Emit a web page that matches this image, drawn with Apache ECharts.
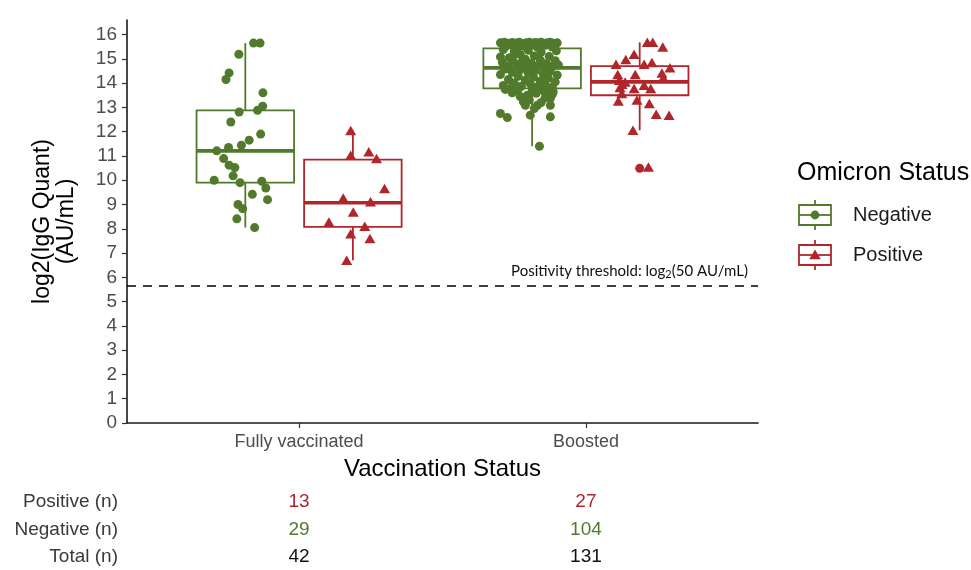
<!DOCTYPE html>
<html>
<head>
<meta charset="utf-8">
<title>IgG by vaccination and Omicron status</title>
<script src="https://cdn.jsdelivr.net/npm/echarts@6/dist/echarts.min.js"></script>
<style>
  html, body { margin: 0; padding: 0; background: #fff; }
  #chart { width: 971px; height: 570px; }
</style>
</head>
<body>
<div id="chart"></div>
<script>
// ---- data ----
const categories = ['Fully vaccinated', 'Boosted'];
const yTicks = [0, 1, 2, 3, 4, 5, 6, 7, 8, 9, 10, 11, 12, 13, 14, 15, 16];
const groupNames = ['Negative', 'Positive'];
const thresholdAU = 50;

// box statistics per category: [lower whisker, Q1, median, Q3, upper whisker]
const negativeBoxes = [
  [8.05, 9.90, 11.21, 12.88, 15.65],
  [11.40, 13.78, 14.63, 15.43, 15.67]
];
const positiveBoxes = [
  [6.70, 8.08, 9.07, 10.85, 12.05],
  [12.06, 13.50, 14.05, 14.70, 15.68]
];
// outliers: [category number, value]
const positiveOutliers = [[2, 10.49]];

// jittered observations: [x on category scale, log2 IgG]
const negativeFully = [
  [0.841,15.65],[0.864,15.65],[0.790,15.19],[0.756,14.42],[0.745,14.15],[0.874,13.60],
  [0.873,13.05],[0.855,12.88],[0.791,12.81],[0.762,12.40],[0.866,11.90],[0.826,11.65],
  [0.799,11.44],[0.754,11.35],[0.713,11.21],[0.737,10.89],[0.756,10.62],[0.776,10.52],
  [0.770,10.18],[0.704,10.00],[0.794,9.90],[0.870,9.96],[0.884,9.68],[0.837,9.42],
  [0.890,9.20],[0.787,9.00],[0.803,8.83],[0.783,8.41],[0.845,8.05]
];
const positiveFully = [
  [1.180,12.05],[1.180,11.03],[1.243,11.17],[1.270,10.89],[1.298,9.66],[1.154,9.27],
  [1.249,9.11],[1.189,8.69],[1.104,8.28],[1.229,8.10],[1.180,7.80],[1.247,7.60],[1.166,6.70]
];
const negativeBoosted = [
  [1.702,15.66],[1.716,15.68],[1.730,15.64],[1.743,15.67],[1.757,15.65],[1.768,15.68],
  [1.778,15.63],[1.792,15.66],[1.803,15.68],[1.813,15.64],[1.824,15.67],[1.834,15.65],
  [1.844,15.68],[1.855,15.63],[1.865,15.66],[1.876,15.68],[1.886,15.64],[1.900,15.66],
  [1.740,15.60],[1.810,15.58],[1.858,15.57],[1.719,15.50],[1.785,15.52],[1.831,15.47],
  [1.883,15.49],[1.761,15.45],
  [1.712,15.38],[1.750,15.30],[1.799,15.35],[1.844,15.28],[1.897,15.33],[1.771,15.18],
  [1.820,15.12],[1.733,15.05],[1.872,15.10],[1.789,14.98],[1.841,14.95],[1.747,14.90],
  [1.893,14.92],[1.709,14.85],[1.810,14.82],[1.862,14.80],[1.764,14.76],[1.831,14.72],
  [1.730,14.70],[1.883,14.68],[1.796,14.66],[1.851,14.64],[1.754,15.22],[1.702,15.08],
  [1.904,14.75],[1.778,14.88],
  [1.719,14.58],[1.771,14.55],[1.824,14.52],[1.876,14.50],[1.743,14.45],[1.799,14.42],
  [1.851,14.38],[1.702,14.35],[1.900,14.33],[1.764,14.28],[1.817,14.25],[1.869,14.20],
  [1.730,14.15],[1.789,14.12],[1.841,14.08],[1.893,14.05],[1.750,14.00],[1.806,13.97],
  [1.858,13.93],[1.712,13.90],[1.775,13.87],[1.831,13.85],[1.883,13.83],[1.740,13.81],
  [1.796,14.60],[1.858,14.62],
  [1.702,12.75],[1.726,12.58],[1.806,12.68],[1.876,12.61],[1.831,13.09],[1.876,13.37],
  [1.782,13.23],[1.886,13.64],[1.838,11.40],[1.796,13.50],[1.883,13.54],[1.789,13.09],
  [1.876,13.09],[1.719,13.74],[1.757,13.70],[1.813,13.72],[1.855,13.66],[1.743,13.60],
  [1.827,13.58],[1.771,13.45],[1.858,13.40],[1.803,13.30],[1.844,13.20],[1.764,13.75],
  [1.869,13.76],[1.820,12.95]
];
const positiveBoosted = [
  [2.214,15.68],[2.233,15.68],[2.268,15.49],[2.168,15.19],[2.139,14.97],[2.203,14.78],
  [2.230,14.85],[2.105,14.78],[2.293,14.63],[2.265,14.42],[2.111,14.35],[2.172,14.35],
  [2.117,14.12],[2.270,14.22],[2.137,14.05],[2.168,13.78],[2.119,13.82],[2.203,13.91],
  [2.226,13.78],[2.125,13.57],[2.113,13.26],[2.178,13.30],[2.221,13.16],[2.245,12.72],
  [2.290,12.68],[2.164,12.06],[2.218,10.55],[2.126,13.95]
];

// counts table
const countRows = ['Positive (n)', 'Negative (n)', 'Total (n)'];
const positiveCounts = [13, 27];
const negativeCounts = [29, 104];
const totalCounts = [42, 131];

// ---- styling ----
const GREEN = '#517A2C';
const RED = '#B0262B';
const FONT = '"Liberation Sans", Arial, sans-serif';
const DODGE = 0.1875;
const BOX_HALF = 0.17;

const chart = echarts.init(document.getElementById('chart'), null, { renderer: 'canvas' });

function boxData(stats, side) {
  return stats.map((s, i) => [i + 1 + side * DODGE].concat(s));
}

function renderBox(params, api) {
  const x = api.value(0);
  const lo = api.coord([x, api.value(1)]);
  const q1 = api.coord([x, api.value(2)]);
  const med = api.coord([x, api.value(3)]);
  const q3 = api.coord([x, api.value(4)]);
  const hi = api.coord([x, api.value(5)]);
  const half = api.coord([x + BOX_HALF, api.value(3)])[0] - med[0];
  const color = api.visual('color');
  const cx = med[0];
  const thin = { stroke: color, lineWidth: 1.8, fill: null };
  return {
    type: 'group',
    children: [
      { type: 'line', shape: { x1: cx, y1: hi[1], x2: cx, y2: q3[1] }, style: thin },
      { type: 'line', shape: { x1: cx, y1: q1[1], x2: cx, y2: lo[1] }, style: thin },
      { type: 'rect', shape: { x: cx - half, y: q3[1], width: 2 * half, height: q1[1] - q3[1] },
        style: { stroke: color, lineWidth: 1.8, fill: 'rgba(255,255,255,0)' } },
      { type: 'line', shape: { x1: cx - half, y1: med[1], x2: cx + half, y2: med[1] },
        style: { stroke: color, lineWidth: 3.6 } }
    ]
  };
}

const option = {
  animation: false,
  backgroundColor: '#ffffff',
  textStyle: { fontFamily: FONT },
  grid: { left: 127, right: 213, top: 20, bottom: 147, containLabel: false },
  xAxis: {
    type: 'value',
    min: 0.4,
    max: 2.6,
    name: 'Vaccination Status',
    nameLocation: 'middle',
    nameGap: 34,
    nameTextStyle: { fontSize: 24, color: '#000', fontFamily: FONT },
    axisLine: { show: true, onZero: false, lineStyle: { color: '#1a1a1a', width: 1.6 } },
    axisTick: { show: true, length: 5, customValues: [1, 2], lineStyle: { color: '#333', width: 1.2 } },
    axisLabel: {
      customValues: [1, 2],
      formatter: v => categories[Math.round(v) - 1] || '',
      fontSize: 18, color: '#4D4D4D', margin: 10, fontFamily: FONT
    },
    splitLine: { show: false }
  },
  yAxis: {
    type: 'value',
    min: 0,
    max: 16.6,
    name: 'log2(IgG Quant)\n(AU/mL)',
    nameLocation: 'middle',
    nameRotate: 90,
    nameGap: 48,
    nameTextStyle: { fontSize: 23, color: '#000', lineHeight: 24, fontFamily: FONT },
    axisLine: { show: true, lineStyle: { color: '#1a1a1a', width: 1.6 } },
    axisTick: { show: true, length: 5, customValues: yTicks, lineStyle: { color: '#333', width: 1.2 } },
    axisLabel: { customValues: yTicks, fontSize: 19, color: '#4D4D4D', margin: 10, fontFamily: FONT },
    splitLine: { show: false }
  },
  series: [
    {
      name: 'Negative boxes', type: 'custom', renderItem: renderBox,
      data: boxData(negativeBoxes, -1), itemStyle: { color: GREEN },
      encode: { x: 0, y: [1, 2, 3, 4, 5] }, z: 2, silent: true
    },
    {
      name: 'Positive boxes', type: 'custom', renderItem: renderBox,
      data: boxData(positiveBoxes, 1), itemStyle: { color: RED },
      encode: { x: 0, y: [1, 2, 3, 4, 5] }, z: 2, silent: true
    },
    {
      name: 'Positive outliers', type: 'scatter', symbol: 'circle', symbolSize: 9,
      data: positiveOutliers.map(d => [d[0] + DODGE, d[1]]),
      itemStyle: { color: RED, opacity: 1 }, z: 3, silent: true
    },
    {
      name: 'Negative', type: 'scatter', symbol: 'circle', symbolSize: 9,
      data: negativeFully.concat(negativeBoosted),
      itemStyle: { color: GREEN, opacity: 1 }, z: 4, silent: true,
      markLine: {
        silent: true,
        symbol: ['none', 'none'],
        animation: false,
        lineStyle: { color: '#000', width: 1.7, type: [9, 7] },
        label: {
          show: true,
          position: 'insideEndTop',
          distance: [10, 6],
          formatter: 'Positivity threshold: log{sub|2}(' + thresholdAU + ' AU/mL)',
          fontFamily: 'Lato, "Open Sans", sans-serif',
          fontSize: 15,
          color: '#111',
          rich: {
            sub: { fontSize: 11, verticalAlign: 'bottom', padding: [6, 0, 0, 0], fontFamily: 'Lato, sans-serif', color: '#111' }
          }
        },
        data: [{ yAxis: Math.log2(thresholdAU) }]
      }
    },
    {
      name: 'Positive', type: 'scatter', symbol: 'triangle', symbolSize: [11, 9.5],
      data: positiveFully.concat(positiveBoosted),
      itemStyle: { color: RED, opacity: 1 }, z: 4, silent: true
    }
  ]
};

chart.setOption(option);

// ---- legend and counts table ----
function legendKey(cx, cy, color, marker) {
  const items = [
    { type: 'line', shape: { x1: cx, y1: cy - 15, x2: cx, y2: cy - 10 }, style: { stroke: color, lineWidth: 1.8 } },
    { type: 'line', shape: { x1: cx, y1: cy + 10, x2: cx, y2: cy + 15 }, style: { stroke: color, lineWidth: 1.8 } },
    { type: 'rect', shape: { x: cx - 16, y: cy - 10, width: 32, height: 20 }, style: { stroke: color, lineWidth: 1.8, fill: '#fff' } },
    { type: 'line', shape: { x1: cx - 16, y1: cy, x2: cx + 16, y2: cy }, style: { stroke: color, lineWidth: 1.8 } }
  ];
  if (marker === 'circle') {
    items.push({ type: 'circle', shape: { cx: cx, cy: cy, r: 4.4 }, style: { fill: color } });
  } else {
    items.push({ type: 'polygon', shape: { points: [[cx, cy - 5.5], [cx + 5.8, cy + 4.2], [cx - 5.8, cy + 4.2]] }, style: { fill: color } });
  }
  return items;
}

const xs = [1, 2].map(v => chart.convertToPixel({ xAxisIndex: 0 }, v));
const rowY = [502, 530, 557];
const rowValues = [positiveCounts, negativeCounts, totalCounts];
const rowColors = [RED, GREEN, '#111'];

const graphics = [];
graphics.push({ type: 'text', left: 797, top: 161, style: { text: 'Omicron Status', fontSize: 25, fontFamily: FONT, fill: '#000' } });
const keyColors = [GREEN, RED];
const keyMarkers = ['circle', 'triangle'];
const keyY = [215, 255];
groupNames.forEach((g, i) => {
  legendKey(815, keyY[i], keyColors[i], keyMarkers[i]).forEach(el => graphics.push(el));
  graphics.push({ type: 'text', x: 853, y: keyY[i], style: { text: g, fontSize: 20, fontFamily: FONT, fill: '#1a1a1a', verticalAlign: 'middle', align: 'left' } });
});
countRows.forEach((r, i) => {
  graphics.push({ type: 'text', x: 118, y: rowY[i], style: { text: r, fontSize: 19, fontFamily: FONT, fill: '#3a3a3a', align: 'right', verticalAlign: 'middle' } });
  rowValues[i].forEach((v, j) => {
    graphics.push({ type: 'text', x: xs[j], y: rowY[i], style: { text: String(v), fontSize: 19, fontFamily: FONT, fill: rowColors[i], align: 'center', verticalAlign: 'middle' } });
  });
});

chart.setOption({ graphic: { elements: graphics } });
</script>
</body>
</html>
